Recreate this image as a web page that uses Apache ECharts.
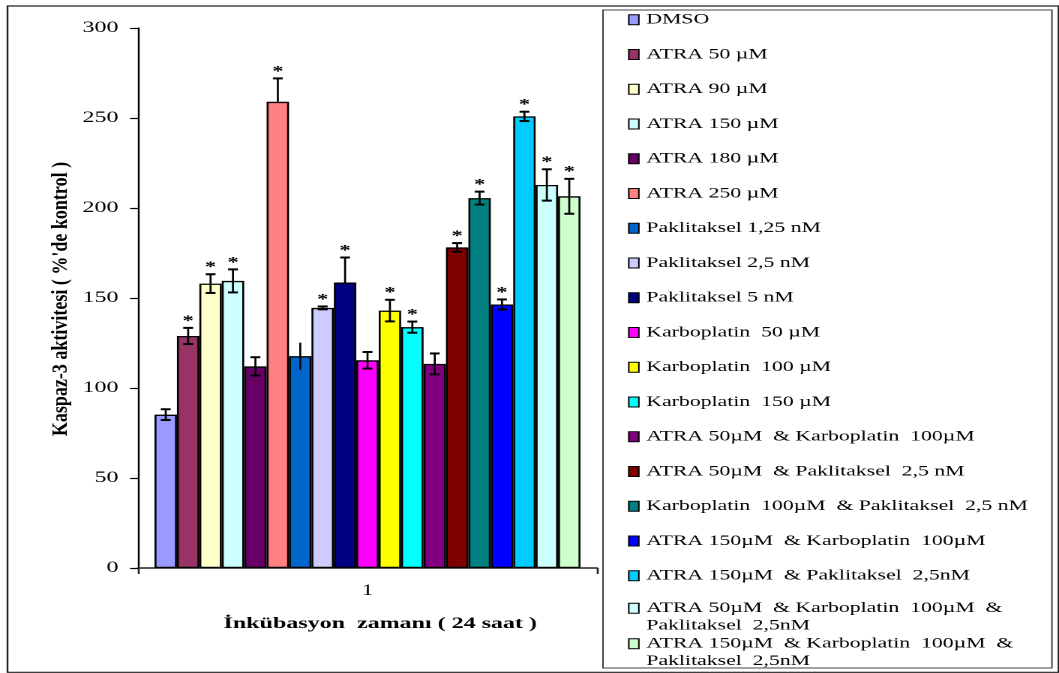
<!DOCTYPE html>
<html>
<head>
<meta charset="utf-8">
<script src="https://cdn.jsdelivr.net/npm/echarts@6/dist/echarts.min.js"></script>
<style>
  html, body { margin: 0; padding: 0; background: #fff; overflow: hidden; }
  #wrap { width: 1059px; height: 673px; overflow: hidden; }
  /* the figure is drawn on a narrower canvas and widened, giving its broad type */
  #chart { width: 706px; height: 673px; transform: scaleX(1.5); transform-origin: 0 0; }
</style>
</head>
<body>
<div id="wrap"><div id="chart"></div></div>
<script>
// ---- data ----
const categories = ['1'];

const seriesNames = [
  'DMSO',
  'ATRA 50 µM',
  'ATRA 90 µM',
  'ATRA 150 µM',
  'ATRA 180 µM',
  'ATRA 250 µM',
  'Paklitaksel 1,25 nM',
  'Paklitaksel 2,5 nM',
  'Paklitaksel 5 nM',
  'Karboplatin  50 µM',
  'Karboplatin  100 µM',
  'Karboplatin  150 µM',
  'ATRA 50µM  & Karboplatin  100µM',
  'ATRA 50µM  & Paklitaksel  2,5 nM',
  'Karboplatin  100µM  & Paklitaksel  2,5 nM',
  'ATRA 150µM  & Karboplatin  100µM',
  'ATRA 150µM  & Paklitaksel  2,5nM',
  'ATRA 50µM  & Karboplatin  100µM  &\nPaklitaksel  2,5nM',
  'ATRA 150µM  & Karboplatin  100µM  &\nPaklitaksel  2,5nM'
];

// caspase-3 activity, % of control
const means = [85.2, 128.9, 158.0, 159.5, 112.0, 259.0, 117.7, 144.5, 158.6, 115.4,
               143.0, 133.8, 113.4, 178.1, 205.5, 146.4, 250.9, 212.8, 206.5];
const errPlus = [3.0, 4.5, 5.2, 6.4, 5.1, 13.0, 7.5, 0.8, 13.9, 4.6,
                 6.0, 3.1, 5.8, 2.4, 3.6, 2.8, 2.6, 8.7, 9.7];
const errMinus = [3.0, 4.5, 5.2, 6.4, 5.1, 0, 7.5, 0.8, 0, 4.6,
                  6.0, 3.1, 5.8, 2.4, 3.6, 2.8, 2.6, 8.7, 9.7];
const significant = [false, true, true, true, false, true, false, true, true, false,
                     true, true, false, true, true, true, true, true, true];

const yTicks = [0, 50, 100, 150, 200, 250, 300];

// ---- styling ----
const colors = ['#9999FF', '#993366', '#FFFFCC', '#CCFFFF', '#660066', '#FF8080', '#0066CC',
                '#CCCCFF', '#000080', '#FF00FF', '#FFFF00', '#00FFFF', '#800080', '#800000',
                '#008080', '#0000FF', '#00CCFF', '#CCFFFF', '#CCFFCC'];
const uncapped = new Set(['Paklitaksel 1,25 nM']);
const SERIF = "'Liberation Serif', 'Times New Roman', serif";
const CAT_GAP = 0.072;
const N = seriesNames.length;

const barSeries = seriesNames.map((name, i) => ({
  name: name,
  type: 'bar',
  data: [means[i]],
  barGap: '0%',
  barCategoryGap: (CAT_GAP * 100) + '%',
  itemStyle: { color: colors[i], borderColor: '#000', borderWidth: 1.3 },
  emphasis: { disabled: true },
  silent: true
}));

// error bars and significance marks, placed on each bar of the group
const errorSeries = {
  type: 'custom',
  name: 'errors',
  z: 5,
  silent: true,
  data: means.map(m => [0, m]),
  renderItem: function (params, api) {
    const i = params.dataIndex;
    const band = api.size([1, 0])[0];
    const used = band * (1 - CAT_GAP);
    const bw = used / N;
    const cx = api.coord([0, 0])[0] - used / 2 + (i + 0.5) * bw;
    const yTop = api.coord([0, means[i] + errPlus[i]])[1];
    const yBot = api.coord([0, means[i] - errMinus[i]])[1];
    const half = bw * 0.22;
    const kids = [{
      type: 'line',
      shape: { x1: cx, y1: yBot, x2: cx, y2: yTop },
      style: { stroke: '#000', lineWidth: 1.35 }
    }];
    if (!uncapped.has(seriesNames[i])) {
      kids.push({
        type: 'line',
        shape: { x1: cx - half, y1: yTop, x2: cx + half, y2: yTop },
        style: { stroke: '#000', lineWidth: 2 }
      });
      if (errMinus[i] > 0) {
        kids.push({
          type: 'line',
          shape: { x1: cx - half, y1: yBot, x2: cx + half, y2: yBot },
          style: { stroke: '#000', lineWidth: 2 }
        });
      }
    }
    if (significant[i]) {
      kids.push({
        type: 'text',
        x: cx,
        y: yTop - 7,
        style: {
          text: '*',
          font: 'bold 15px ' + SERIF,
          fill: '#000',
          textAlign: 'center',
          textVerticalAlign: 'middle'
        }
      });
    }
    return { type: 'group', children: kids };
  }
};

const legendText = {
  fontFamily: SERIF,
  fontSize: 14.5,
  color: '#000',
  lineHeight: 17.5
};
const legendBase = {
  orient: 'vertical',
  left: 418.7,
  padding: 0,
  icon: 'rect',
  itemWidth: 6.7,
  itemHeight: 10,
  itemGap: 17.25,
  selectedMode: false,
  itemStyle: { borderColor: '#000', borderWidth: 1 },
  textStyle: legendText
};
// two-line entries: a leading blank line keeps the swatch beside the first line
const twoLineEntry = name => '\n' + name;

const option = {
  animation: false,
  backgroundColor: '#fff',
  grid: { left: 92, right: 308, top: 28, bottom: 105 },
  xAxis: {
    type: 'category',
    data: categories,
    axisLine: { lineStyle: { color: '#222', width: 1.5 } },
    axisTick: { show: true, length: 6, lineStyle: { color: '#222', width: 1.3 } },
    axisLabel: { fontFamily: SERIF, fontSize: 16, color: '#000', margin: 15 },
    name: 'İnkübasyon  zamanı ( 24 saat )',
    nameLocation: 'middle',
    nameGap: 48,
    nameTextStyle: {
      fontFamily: SERIF, fontSize: 16, fontWeight: 'bold', color: '#000',
      padding: [0, 0, 0, 17]
    }
  },
  yAxis: {
    type: 'value',
    min: yTicks[0],
    max: yTicks[yTicks.length - 1],
    interval: yTicks[1] - yTicks[0],
    splitLine: { show: false },
    axisLine: { show: true, lineStyle: { color: '#000', width: 1.2 } },
    axisTick: { show: true, length: 5.3, lineStyle: { color: '#000', width: 1.2 } },
    axisLabel: { fontFamily: SERIF, fontSize: 16, color: '#000', margin: 13 }
  },
  legend: [
    Object.assign({}, legendBase, {
      top: 11,
      data: seriesNames.slice(0, 17)
    }),
    Object.assign({}, legendBase, {
      top: 582,
      formatter: twoLineEntry,
      data: [seriesNames[17]]
    }),
    Object.assign({}, legendBase, {
      top: 617.5,
      formatter: twoLineEntry,
      data: [seriesNames[18]]
    })
  ],
  graphic: [
    {
      type: 'rect',
      silent: true,
      shape: { x: 5, y: 6, width: 700.7, height: 666.3 },
      style: { fill: 'none', stroke: '#222', lineWidth: 1.2 }
    },
    {
      type: 'rect',
      silent: true,
      shape: { x: 402, y: 10, width: 299.3, height: 658 },
      style: { fill: 'none', stroke: '#444', lineWidth: 1 }
    },
    {
      type: 'text',
      silent: true,
      x: 40.7,
      y: 299,
      rotation: Math.PI / 2,
      scaleY: 0.8,
      style: {
        text: "Kaspaz-3 aktivitesi ( %'de kontrol )",
        font: 'bold 18px ' + SERIF,
        fill: '#000',
        textAlign: 'center',
        textVerticalAlign: 'middle'
      }
    }
  ],
  series: barSeries.concat([errorSeries])
};

const chart = echarts.init(document.getElementById('chart'), null, { renderer: 'canvas', devicePixelRatio: 2 });
chart.setOption(option);
</script>
</body>
</html>
